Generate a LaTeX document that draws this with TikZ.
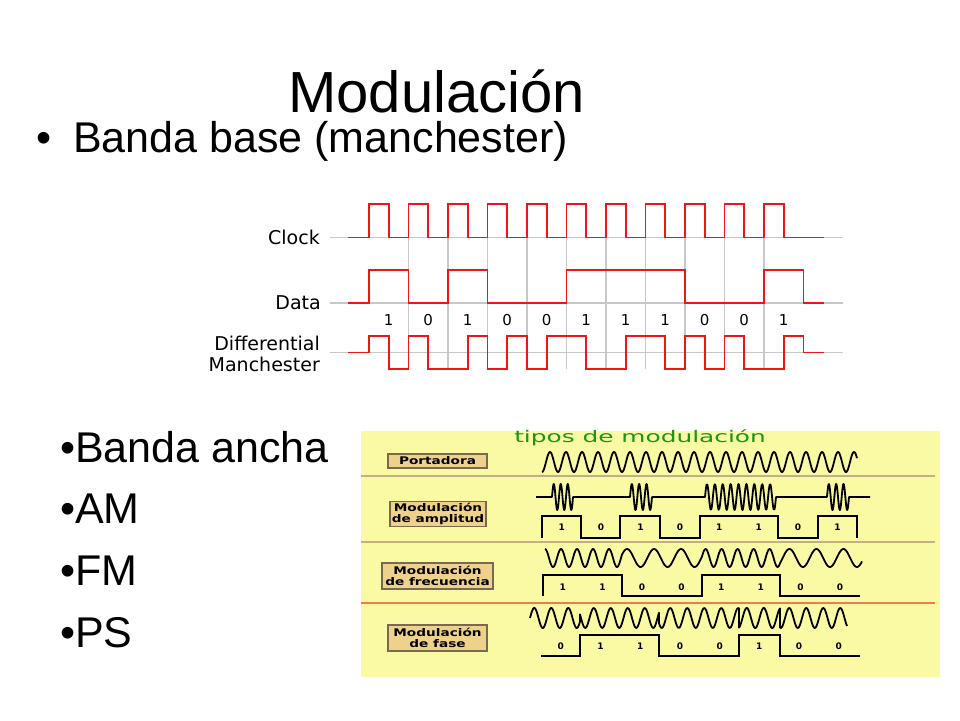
\documentclass[tikz,border=0pt]{standalone}
\usepackage{fontspec}
\setmainfont{Liberation Sans}
\newfontfamily\dejavu{DejaVu Sans}
\usepackage{xcolor}
\definecolor{sigred}{RGB}{240,20,20}
\definecolor{gridgray}{RGB}{200,200,200}
\definecolor{panelyellow}{RGB}{250,250,165}
\definecolor{boxtan}{RGB}{238,210,140}
\definecolor{tagline}{RGB}{120,105,80}
\definecolor{sepbrown}{RGB}{195,175,135}
\definecolor{seporange}{RGB}{235,125,80}
\definecolor{titlegreen}{RGB}{25,150,25}

\begin{document}
\begin{tikzpicture}[x=1pt,y=-1pt,
  sig/.style={color=sigred,line width=1.8pt,line join=miter},
  grid/.style={color=gridgray,line width=1.4pt},
  wave/.style={black,line width=1.8pt,line join=round},
  sq/.style={black,line width=1.7pt},
  lbl/.style={font=\dejavu\fontsize{19}{21}\selectfont,anchor=east,align=right,inner sep=0pt},
  bit/.style={font=\dejavu\fontsize{15}{15}\selectfont},
  tag/.style={draw=tagline,fill=boxtan,line width=1.2pt,inner sep=0pt,align=center,
    font=\dejavu\bfseries\fontsize{10.5}{11}\selectfont},
  sbit/.style={font=\dejavu\bfseries\fontsize{9}{9}\selectfont},
  item/.style={anchor=base west,inner sep=0pt,font=\fontsize{43}{45}\selectfont}]

\fill[white] (0,0) rectangle (960,720);
\useasboundingbox (0,0) rectangle (960,720);

% title and bullets
\node[anchor=base west,inner sep=0pt,font=\fontsize{58}{60}\selectfont] (title) at (288,112) {Modulación};
\node[item] (dot) at (36,152) {•};
\node[item] (bbase) at (73,152) {Banda base (manchester)};
\node[item] (ancha) at (60,462) {•Banda ancha};
\node[item] (am) at (60,523) {•AM};
\node[item] (fm) at (60,585) {•FM};
\node[item] (ps) at (60,647) {•PS};

% manchester chart
\foreach \y in {237.5,303,352.5} \draw[grid] (330,\y) -- (843,\y);
\foreach \k in {1,...,10} \draw[grid] ({369+39.5*\k},237.5) -- ({369+39.5*\k},369);

\draw[sig] (348,237.5) \foreach \k in {0,...,10} { -- ({369+39.5*\k},237.5) -- ++(0,-33.5) -- ++(19.75,0) -- ++(0,33.5) } -- (824,237.5);
\draw[sig] (348,303) -- (369,303) \foreach \v [count=\k from 0] in {1,0,1,0,0,1,1,1,0,0,1} { -- ({369+39.5*\k},{303-33*\v}) -- ({369+39.5*(\k+1)},{303-33*\v}) } -- (803.5,303) -- (824,303);
\draw[sig] (348,352.5) -- (369,352.5) \foreach \v [count=\k from 0] in {1,0,1,0,0,1,0,1,0,1,1,0,0,1,1,0,1,0,1,0,0,1} { -- ({369+19.75*\k},{369-33*\v}) -- ({369+19.75*(\k+1)},{369-33*\v}) } -- (803.5,352.5) -- (824,352.5);

\foreach \v [count=\k from 0] in {1,0,1,0,0,1,1,1,0,0,1} \node[bit] (d\k) at ({369+39.5*(\k+0.5)},320) {\v};

\node[lbl] (clock) at (320,237.5) {Clock};
\node[lbl] (data) at (321,303) {Data};
\node[lbl] (dman) at (320,353.5) {Differential\\Manchester};

% tipos de modulacion panel
\fill[panelyellow] (361,431) rectangle (940,677);
\node[text=titlegreen,font=\dejavu\fontsize{16}{16}\selectfont] (tipos) at (640,438) {\scalebox{1.55}[1]{tipos de modulación}};
\draw[sepbrown,line width=1.2pt] (361,476) -- (935,476);
\draw[sepbrown,line width=1.2pt] (361,542) -- (935,542);
\draw[seporange,line width=1.2pt] (361,603) -- (935,603);

\node[tag,minimum width=99,minimum height=14] (port) at (437.5,461) {\scalebox{1.3}[1]{Portadora}};
\node[tag,minimum width=96,minimum height=25] (ampl) at (438,514) {\scalebox{1.3}[1]{Modulación}\\\scalebox{1.3}[1]{de amplitud}};
\node[tag,minimum width=111,minimum height=26] (frec) at (437.5,576) {\scalebox{1.3}[1]{Modulación}\\\scalebox{1.3}[1]{de frecuencia}};
\node[tag,minimum width=99,minimum height=26] (fase) at (437.5,638) {\scalebox{1.3}[1]{Modulación}\\\scalebox{1.3}[1]{de fase}};

% portadora
\draw[wave] plot[domain=542:857,samples=500,smooth] (\x,{462+10*cos(22.5*(\x-542))});

% AM
\draw[wave] (536,497) \foreach \p/\q/\n in {552/573/3,630/652/3,705/776/9,827/849/3} { -- (\p,497) -- plot[domain=\p:\q,samples=90,smooth] (\x,{497-13*sin((\x-\p)*(360*\n/(\q-\p)))}) } -- (870,497);
\draw[sq] (542,538) -- (542,516) -| (581,538) -| (620,516) -| (660,538) -| (700,516) -| (778,538) -| (818,516) -| (857,538);
\foreach \v [count=\k from 0] in {1,0,1,0,1,1,0,1} \node[sbit] (amb\k) at ({542+39.4*(\k+0.5)},527) {\v};

% FM
\draw[wave] (545,549) -- plot[domain=545:622,samples=120,smooth] (\x,{558-9*sin(90+22.5*(\x-545))})
  -- plot[domain=622:702,samples=100,smooth] (\x,{558-9*sin(1822.5+13.333*(\x-622))})
  -- plot[domain=702:780,samples=120,smooth] (\x,{558-9*sin(2889.2+22.5*(\x-702))})
  -- plot[domain=780:862,samples=100,smooth] (\x,{558-9*sin(4644.2+13.333*(\x-780))});
\draw[sq] (543,596) -- (543,575) -| (622,596) -| (702,575) -| (780,596) -- (860,596);
\foreach \v [count=\k from 0] in {1,1,0,0,1,1,0,0} \node[sbit] (fmb\k) at ({543+39.6*(\k+0.5)},587) {\v};

% PM
\draw[wave] (530,618) \foreach \p/\q/\s in {530/580/0,580/659/180,659/739/0,739/780/180,780/847/0} { -- plot[domain=\p:\q,samples=80,smooth] (\x,{618-10*sin(21.176*(\x-530)+\s)}) };
\draw[sq] (541,656) -| (580,635) -| (659,656) -| (739,635) -| (780,656) -- (860,656);
\foreach \v [count=\k from 0] in {0,1,1,0,0,1,0,0} \node[sbit] (pmb\k) at ({541+39.7*(\k+0.5)},646) {\v};
\end{tikzpicture}
\end{document}
